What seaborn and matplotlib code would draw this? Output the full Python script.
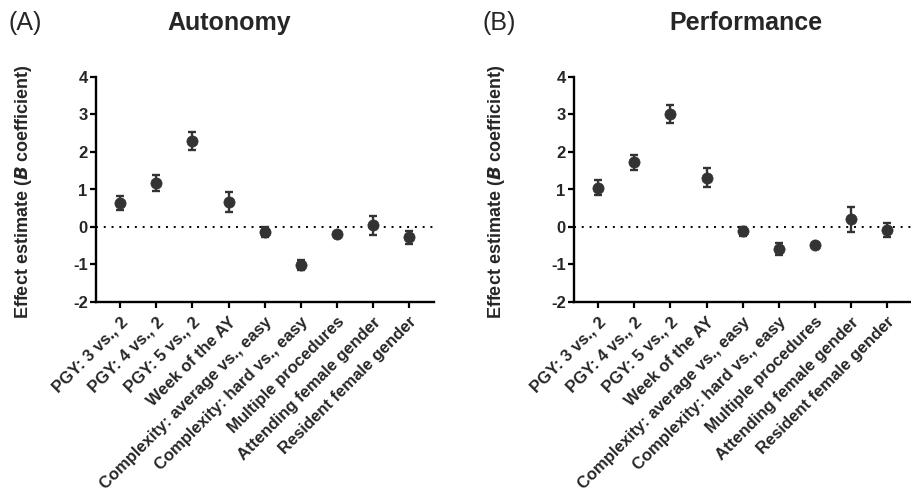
import matplotlib
matplotlib.use('Agg')
import matplotlib.pyplot as plt
import seaborn as sns

# Данные
predictors = ['PGY: 3 vs., 2', 'PGY: 4 vs., 2', 'PGY: 5 vs., 2', 'Week of the AY',
              'Complexity: average vs., easy', 'Complexity: hard vs., easy',
              'Multiple procedures', 'Attending female gender', 'Resident female gender']

autonomy_est = [0.63, 1.17, 2.28, 0.67, -0.14, -1.01, -0.19, 0.04, -0.28]
autonomy_err = [0.19, 0.21, 0.24, 0.27, 0.13, 0.13, 0.03, 0.26, 0.18]

performance_est = [1.05, 1.72, 3.00, 1.31, -0.12, -0.60, -0.48, 0.20, -0.08]
performance_err = [0.20, 0.21, 0.24, 0.25, 0.12, 0.16, 0.03, 0.34, 0.18]

sns.set_style('ticks')
plt.rcParams['font.family'] = ['Liberation Sans', 'DejaVu Sans']
plt.rcParams['axes.unicode_minus'] = False

fig = plt.figure(figsize=(9.11, 4.98), dpi=100)
ax1 = fig.add_axes([96 / 911, 196 / 498, 338 / 911, 225 / 498])
ax2 = fig.add_axes([574 / 911, 196 / 498, 338 / 911, 225 / 498])

color = '#333333'
ylabel = 'Effect estimate (' + r'$\mathbfit{B}$' + ' coefficient)'
for ax, est, err, lx in [(ax1, autonomy_est, autonomy_err, -0.183),
                         (ax2, performance_est, performance_err, -0.198)]:
    ax.axhline(0, color='black', linestyle=(0, (1, 3)), linewidth=1.4, zorder=1)
    ax.errorbar(predictors, est, yerr=err, fmt='none', ecolor=color,
                elinewidth=1.7, capsize=3, capthick=1.7, zorder=2)
    sns.scatterplot(x=predictors, y=est, ax=ax, color=color, s=65,
                    edgecolor=color, linewidth=0.5, zorder=3)
    ax.set_ylim(-2, 4)
    ax.set_xlim(-0.67, 8.69)
    ax.set_yticks(range(-2, 5))
    ax.set_xticks(range(len(predictors)))
    ax.set_xticklabels(predictors, rotation=45, ha='right', rotation_mode='anchor',
                       fontsize=12, fontweight='bold')
    for lab in ax.get_yticklabels():
        lab.set_fontsize(12)
        lab.set_fontweight('bold')
    ax.tick_params(axis='both', length=4, width=1.6, color='black', pad=2)
    ax.tick_params(axis='x', pad=5)
    ax.set_ylabel(ylabel, fontsize=13, fontweight='bold')
    ax.yaxis.set_label_coords(lx, 0.49)
    for side in ['left', 'bottom']:
        ax.spines[side].set_linewidth(1.7)
        ax.spines[side].set_color('black')
    sns.despine(ax=ax)

fig.text(8 / 911, 1 - 23 / 498, '(A)', fontsize=18, va='center', ha='left')
fig.text(229 / 911, 1 - 23 / 498, 'Autonomy', fontsize=18, fontweight='bold', va='center', ha='center')
fig.text(483 / 911, 1 - 23 / 498, '(B)', fontsize=18, va='center', ha='left')
fig.text(746 / 911, 1 - 23 / 498, 'Performance', fontsize=18, fontweight='bold', va='center', ha='center')

fig.savefig('out.png', dpi=100)
